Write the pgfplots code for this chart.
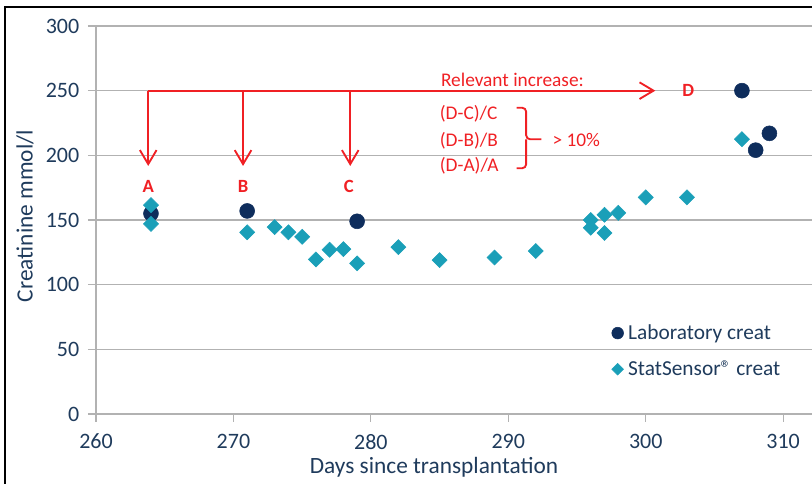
\documentclass[border=0pt]{standalone}
\usepackage{fontspec}
\setmainfont{Carlito}
\usepackage{pgfplots}
\usepackage{pgfplotstable}
\pgfplotsset{compat=1.18}
\usetikzlibrary{arrows.meta}
\definecolor{labnavy}{RGB}{14,45,92}
\definecolor{sensteal}{RGB}{26,159,184}
\definecolor{txt}{RGB}{31,59,92}
\definecolor{annred}{RGB}{240,32,36}
\definecolor{gridgray}{RGB}{178,178,178}

\pgfplotstableread{
x y
264 155
271 157
279 149
307 250
308 204
309 217
}\labdata

\pgfplotstableread{
x y
264 161.5
264 147
271 140.5
273 144.5
274 140.5
275 137
276 119.5
277 127
278 127.5
279 116.5
282 129
285 119
289 121
292 126
296 150
296 144
297 154
297 140
298 155.5
300 167.5
303 167.5
307 212.5
}\sensdata

\begin{document}
\begin{tikzpicture}
\useasboundingbox (-72pt,-52.5pt) rectangle (537pt,310.5pt);
\draw[black, line width=1.1pt] (-68.25pt,-60pt) -- (-68.25pt,305.25pt) -- (545pt,305.25pt);
\begin{axis}[
  at={(0pt,0pt)}, anchor=south west,
  scale only axis, width=537pt, height=291pt,
  xmin=260, xmax=312.1, ymin=0, ymax=300,
  xtick={260,270,...,310}, ytick={0,50,...,300},
  axis x line=bottom, axis y line=left,
  axis line style={gridgray, line width=0.8pt, -},
  ymajorgrids, major grid style={gridgray, line width=0.8pt},
  tick align=outside, major tick length=6pt, tick style={gridgray, line width=0.8pt},
  /pgf/number format/assume math mode=true,
  ticklabel style={font=\fontsize{16.5}{19}\selectfont, text=txt},
  xticklabel style={yshift=-5.5pt},
  yticklabel style={xshift=-3pt},
  xlabel={Days since transplantation}, ylabel={Creatinine mmol/l},
  label style={font=\fontsize{17.5}{21}\selectfont, text=txt},
  xlabel style={at={(axis description cs:0.472,-0.138)}, anchor=center},
  ylabel style={at={(axis description cs:-0.0992,0.51)}, anchor=center},
  clip=false,
  legend style={draw=none, fill=none, at={(0.72,0.162)}, anchor=west,
    font=\fontsize{16}{19}\selectfont, text=txt, row sep=10.5pt, inner sep=0pt},
  legend cell align=left,
  legend image code/.code={\draw[#1] plot coordinates {(0pt,0pt)};},
]
\addplot[only marks, mark=*, mark size=5.6pt, mark options={draw=labnavy, fill=labnavy},
  legend image post style={mark size=4.4pt}] table[x=x,y=y] {\labdata};
\addlegendentry{\hspace{1.5pt}Laboratory creat}
\addplot[only marks, mark=square*, mark size=4pt, mark options={draw=sensteal, fill=sensteal, rotate=45},
  legend image post style={mark size=3.1pt}] table[x=x,y=y] {\sensdata};
\addlegendentry{\hspace{1.5pt}StatSensor® creat}

\draw[annred, line width=1.4pt, -{Straight Barb[length=10.5pt,width=12.5pt]}] (axis cs:263.8,250) -- (axis cs:300.7,250);
\draw[annred, line width=1.4pt, -{Straight Barb[length=10.5pt,width=12.5pt]}] (axis cs:263.8,250) -- (axis cs:263.8,191.8);
\draw[annred, line width=1.4pt, -{Straight Barb[length=10.5pt,width=12.5pt]}] (axis cs:270.7,250) -- (axis cs:270.7,191.8);
\draw[annred, line width=1.4pt, -{Straight Barb[length=10.5pt,width=12.5pt]}] (axis cs:278.5,250) -- (axis cs:278.5,191.8);
\node[annred, font=\bfseries\fontsize{14}{17}\selectfont] at (axis cs:263.8,176.3) {A};
\node[annred, font=\bfseries\fontsize{14}{17}\selectfont] at (axis cs:270.7,176.3) {B};
\node[annred, font=\bfseries\fontsize{14}{17}\selectfont] at (axis cs:278.4,176.3) {C};
\node[annred, font=\bfseries\fontsize{14}{17}\selectfont] at (axis cs:303.1,250) {D};
\node[annred, font=\fontsize{14.5}{17}\selectfont, anchor=base, inner sep=0pt] at (axis cs:290.3,253.4) {Relevant increase:};
\node[annred, font=\fontsize{14.5}{17}\selectfont, anchor=base west, inner sep=0pt] at (axis cs:285.0,227.8) {(D-C)/C};
\node[annred, font=\fontsize{14.5}{17}\selectfont, anchor=base west, inner sep=0pt] at (axis cs:285.0,207.2) {(D-B)/B};
\node[annred, font=\fontsize{14.5}{17}\selectfont, anchor=base west, inner sep=0pt] at (axis cs:285.0,187.4) {(D-A)/A};
\node[annred, font=\fontsize{14.5}{17}\selectfont, anchor=base west, inner sep=0pt] at (axis cs:293.2,207.2) {> 10\%};
\draw[annred, line width=1.4pt, rounded corners=3pt] (axis cs:290.6,236.8) -| (axis cs:291.3,212.4) -- (axis cs:292.4,212.4);
\draw[annred, line width=1.4pt, rounded corners=3pt] (axis cs:290.6,190) -| (axis cs:291.3,212.4);
\end{axis}
\end{tikzpicture}
\end{document}
